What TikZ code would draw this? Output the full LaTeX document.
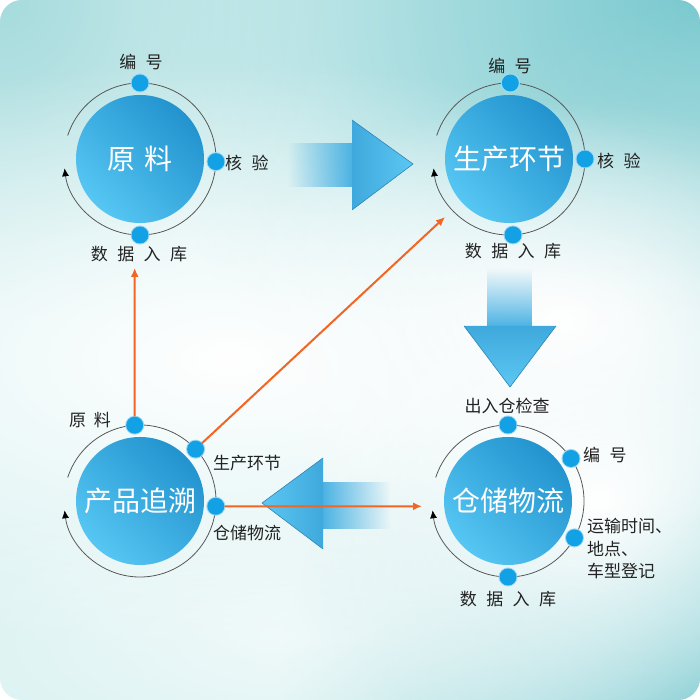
\documentclass[tikz,border=0pt]{standalone}
\usepackage{fontspec}
\setmainfont{Noto Sans CJK SC}
\usetikzlibrary{fadings,arrows.meta,shadings}
\definecolor{ringgray}{HTML}{585858}
\definecolor{dotblue}{HTML}{13A1E6}
\definecolor{orangeline}{HTML}{F26522}
\definecolor{circdark}{HTML}{2293CE}
\definecolor{circlight}{HTML}{56C6F3}
\definecolor{arrblue}{HTML}{4AB2E3}
\definecolor{headL}{HTML}{3FA9DD}
\definecolor{headR}{HTML}{5CC7F2}
\definecolor{headedge}{HTML}{2E84B5}
\definecolor{labelc}{HTML}{222222}
\definecolor{bgbase}{HTML}{D8F1F1}
\definecolor{tealA}{HTML}{78C9CF}
\definecolor{tealB}{HTML}{A6DBDD}
\tikzfading[name=fadeE, left color=transparent!100, right color=transparent!0]
\tikzfading[name=fadeW, left color=transparent!0, right color=transparent!100]
\tikzfading[name=fadeS, top color=transparent!100, bottom color=transparent!0]
\tikzfading[name=softblob, inner color=transparent!0, outer color=transparent!100]
\tikzset{
  disk/.style={circle, minimum size=128pt, inner sep=0pt, draw=none,
    top color=circdark, bottom color=circlight, shading angle=-45},
  dot/.style={circle, fill=dotblue, minimum size=17pt, inner sep=0pt,
    preaction={draw=dotblue!40, line width=2pt}},
  lbl/.style={font=\fontsize{17}{22.5}\selectfont, text=labelc, inner sep=0pt},
  ttl/.style={font=\fontsize{28}{32}\selectfont, text=white, inner sep=0pt},
  ring/.style={draw=ringgray, line width=0.8pt, -{Latex[length=8pt,width=7pt,color=black]}},
  orangearr/.style={draw=orangeline, line width=2pt, -{Latex[length=9pt,width=8pt]}},
  blob/.style={path fading=softblob}
}
\begin{document}
\begin{tikzpicture}[x=1pt,y=1pt]
\useasboundingbox (0,0) rectangle (700,700);
% background
\begin{scope}
\clip[rounded corners=22pt] (0,0) rectangle (700,700);
\fill[bgbase] (0,0) rectangle (700,700);
\fill[tealA, blob] (700,700) circle (560);
\fill[tealA, blob] (700,0) circle (420);
\fill[tealB, blob] (700,430) circle (280);
\fill[tealB, blob] (0,700) circle (320);
\fill[white, blob] (230,340) ellipse (640 and 300);
\fill[white, blob] (560,380) ellipse (360 and 220);
\fill[white, blob] (600,200) ellipse (300 and 260);
\fill[white, blob, opacity=0.6] (300,60) ellipse (440 and 160);
\end{scope}
% big arrows
\fill[arrblue, path fading=fadeE] (288,513) rectangle (353,557);
\shade[left color=headL, right color=headR] (352,580) -- (413,536) -- (352,490) -- cycle;
\draw[headedge, line width=0.6pt] (352,580) -- (413,536) -- (352,490);
\fill[arrblue, path fading=fadeS] (487,432) rectangle (532,373);
\shade[top color=headL, bottom color=headR] (464,374) -- (556,374) -- (510,313) -- cycle;
\draw[headedge, line width=0.6pt] (464,374) -- (510,313) -- (556,374);
\fill[arrblue, path fading=fadeW] (322,171) rectangle (390,218);
\shade[left color=headR, right color=headL] (262,197) -- (323,242) -- (323,151) -- cycle;
\draw[headedge, line width=0.6pt] (323,242) -- (262,197) -- (323,151);
% circle 1
\coordinate (C1) at (140,541);
\node[disk] (d1) at (C1) {};
\draw[ring] ([shift={(162:76)}]C1) arc[start angle=162,end angle=-173,radius=76];
\node[dot] (c1a) at ([shift={(90:76)}]C1) {};
\node[dot] (c1b) at ([shift={(-2:76)}]C1) {};
\node[dot] (c1c) at ([shift={(-90:76)}]C1) {};
\node[ttl] (t1) at (C1) {原\hspace{0.3em}料};
\node[lbl] (l1a) at (141,638) {编\hspace{0.55em}号};
\node[lbl, anchor=west] (l1b) at (225,537) {核\hspace{0.55em}验};
\node[lbl] (l1c) at (139,446) {数\hspace{0.55em}据\hspace{0.55em}入\hspace{0.55em}库};
% circle 2
\coordinate (C2) at (509,541);
\node[disk] (d2) at (C2) {};
\draw[ring] ([shift={(162:76)}]C2) arc[start angle=162,end angle=-173,radius=76];
\node[dot] (c2a) at ([shift={(89:76)}]C2) {};
\node[dot] (c2b) at ([shift={(0:76)}]C2) {};
\node[dot] (c2c) at ([shift={(-87:76)}]C2) {};
\node[ttl] (t2) at (C2) {生产环节};
\node[lbl] (l2a) at (510,634) {编\hspace{0.55em}号};
\node[lbl, anchor=west] (l2b) at (597,539) {核\hspace{0.55em}验};
\node[lbl] (l2c) at (513,449) {数\hspace{0.55em}据\hspace{0.55em}入\hspace{0.55em}库};
% circle 3
\coordinate (C3) at (140,199);
\node[disk] (d3) at (C3) {};
\draw[ring] ([shift={(162:76)}]C3) arc[start angle=162,end angle=-173,radius=76];
\node[dot] (c3a) at ([shift={(94:76)}]C3) {};
\node[dot] (c3b) at ([shift={(43:76)}]C3) {};
\node[dot] (c3c) at ([shift={(-4:76)}]C3) {};
\node[ttl] (t3) at (C3) {产品追溯};
\node[lbl] (l3a) at (90,280) {原\hspace{0.45em}料};
\node[lbl, anchor=west] (l3b) at (213,237) {生产环节};
\node[lbl, anchor=west] (l3c) at (213,167) {仓储物流};
% circle 4
\coordinate (C4) at (508,199);
\node[disk] (d4) at (C4) {};
\draw[ring] ([shift={(162:76)}]C4) arc[start angle=162,end angle=-173,radius=76];
\node[dot] (c4a) at ([shift={(90:76)}]C4) {};
\node[dot] (c4b) at ([shift={(34:76)}]C4) {};
\node[dot] (c4c) at ([shift={(-29:76)}]C4) {};
\node[dot] (c4d) at ([shift={(-90:76)}]C4) {};
\node[ttl] (t4) at (C4) {仓储物流};
\node[lbl] (l4a) at (507,294) {出入仓检查};
\node[lbl, anchor=west] (l4b) at (583,245) {编\hspace{0.55em}号};
\node[lbl, anchor=west, align=left] (l4c) at (587,151) {运输时间、\\地点、\\车型登记};
\node[lbl] (l4d) at (508,101) {数\hspace{0.55em}据\hspace{0.55em}入\hspace{0.55em}库};
% orange connectors
\coordinate (o1) at (134.7,432);
\coordinate (o2) at (445,483);
\coordinate (o3) at (422,193.7);
\draw[orangearr] (c3a) -- (o1);
\draw[orangearr] (c3b) -- (o2);
\draw[orangearr] (c3c) -- (o3);
\end{tikzpicture}
\end{document}
